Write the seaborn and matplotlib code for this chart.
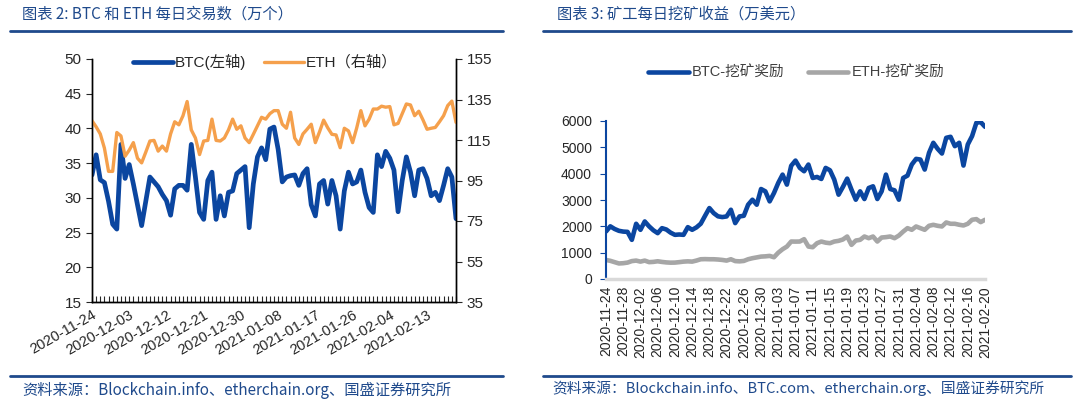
import numpy as np
import pandas as pd
import matplotlib
matplotlib.use('Agg')
import matplotlib.pyplot as plt
import matplotlib.dates as mdates
from matplotlib.lines import Line2D
import seaborn as sns

# daily data, 2020-11-24 .. 2021-02-20
dates = pd.date_range('2020-11-24', '2021-02-20', freq='D')

# chart 2: daily transactions (10k)
btc_tx = [33.3, 36.2, 32.6, 32.2, 29.5, 26.2, 25.5, 37.7, 32.8, 34.8,
          32.0, 29.0, 26.0, 29.5, 33.0, 32.3, 31.6, 30.5, 29.6, 27.5,
          31.3, 31.8, 31.8, 31.1, 37.7, 33.0, 27.9, 26.9, 32.5, 33.7,
          26.9, 30.3, 27.4, 30.8, 31.0, 33.5, 34.0, 34.5, 25.7, 32.0,
          35.9, 37.2, 35.5, 39.9, 40.2, 37.0, 32.3, 33.0, 33.2, 33.3,
          31.8, 33.5, 34.2, 29.0, 27.4, 32.0, 32.5, 29.1, 32.5, 30.3,
          25.5, 31.0, 33.7, 32.0, 32.3, 34.0, 30.8, 28.6, 27.9, 36.2,
          34.5, 36.7, 35.7, 34.0, 28.0, 32.5, 35.9, 33.7, 30.3, 34.0,
          34.2, 32.8, 30.3, 30.8, 29.6, 31.8, 34.2, 33.0, 27.0]
eth_tx = [124.5, 121.5, 118.0, 111.0, 99.5, 99.5, 118.7, 117.0, 107.0, 110.0,
          113.7, 106.0, 103.7, 109.0, 114.5, 114.8, 109.5, 112.0, 109.5, 118.0,
          124.0, 122.5, 127.0, 134.0, 120.0, 116.0, 107.8, 114.5, 114.8, 125.3,
          114.8, 114.5, 116.0, 120.0, 125.3, 120.3, 122.0, 116.0, 113.7, 117.8,
          122.0, 126.2, 125.3, 128.0, 129.5, 129.5, 122.8, 120.8, 128.7, 116.0,
          112.8, 118.0, 120.3, 122.8, 113.7, 119.0, 124.8, 121.0, 117.8, 117.5,
          111.2, 120.8, 119.5, 113.7, 121.0, 129.5, 122.0, 125.3, 130.3, 130.3,
          131.7, 131.2, 131.5, 122.5, 123.2, 128.0, 132.8, 132.3, 127.0, 129.2,
          125.0, 120.3, 120.8, 121.2, 124.0, 127.0, 132.0, 134.2, 123.7]

# chart 3: daily mining reward (10k USD)
btc_reward = [1804, 2000, 1900, 1830, 1800, 1790, 1487, 2097, 1868, 2185,
              2000, 1850, 1741, 1931, 1880, 1760, 1677, 1690, 1677, 1969,
              1868, 1960, 2100, 2400, 2694, 2503, 2380, 2351, 2376, 2630,
              2122, 2376, 2401, 2821, 3011, 2821, 3418, 3329, 2948, 3265,
              3650, 3964, 3583, 4300, 4498, 4219, 4092, 4346, 3837, 3875,
              3799, 4219, 4130, 3774, 3202, 3494, 3812, 3393, 3011, 3329,
              3037, 3456, 3520, 3037, 3329, 3964, 3418, 3367, 3011, 3837,
              3926, 4346, 4562, 4536, 4155, 4790, 5172, 4943, 4765, 5362,
              5400, 5044, 5172, 4308, 5108, 5426, 5934, 5959, 5781]
eth_reward = [724, 690, 640, 590, 600, 623, 680, 699, 660, 699,
              640, 650, 673, 648, 630, 620, 623, 640, 660, 670,
              660, 700, 750, 755, 750, 750, 740, 724, 699, 750,
              680, 670, 686, 750, 790, 820, 851, 860, 877, 826,
              1000, 1131, 1232, 1423, 1420, 1423, 1512, 1232, 1207, 1360,
              1423, 1380, 1360, 1423, 1449, 1500, 1614, 1296, 1461, 1487,
              1614, 1550, 1614, 1423, 1575, 1590, 1614, 1550, 1650, 1800,
              1931, 1868, 1995, 1931, 1868, 2020, 2058, 2020, 1995, 2147,
              2097, 2097, 2060, 2033, 2097, 2250, 2274, 2160, 2249]

df = pd.DataFrame({'date': dates, 'btc_tx': btc_tx, 'eth_tx': eth_tx,
                   'btc_reward': btc_reward, 'eth_reward': eth_reward})

sns.set_style('white')
plt.rcParams['font.family'] = ['Liberation Sans', 'Noto Sans CJK SC']

blue = '#0B46A0'
orange = '#F5A04C'
grey = '#A6A6A6'
navy = '#1F4A8C'

W, H = 1078, 399
fig = plt.figure(figsize=(W / 100, H / 100), dpi=100)

def fx(px):
    return px / W

def fy(py):
    return 1 - py / H

# ---- left chart ----
ax1 = fig.add_axes([fx(92), fy(302), fx(364), 243 / H])
ax1b = ax1.twinx()
sns.lineplot(data=df, x='date', y='btc_tx', ax=ax1, color=blue, lw=3.4,
             label='BTC(左轴)', legend=False)
sns.lineplot(data=df, x='date', y='eth_tx', ax=ax1b, color=orange, lw=2.4,
             label='ETH（右轴）', legend=False)
ax1.set_ylim(15, 50)
ax1.set_yticks(np.arange(15, 51, 5))
ax1b.set_ylim(35, 155)
ax1b.set_yticks(np.arange(35, 156, 20))
ax1.set_xlim(dates[0], dates[-1])
ax1.set_xticks(dates[::9])
ax1.set_xticks(dates, minor=True)
ax1.xaxis.set_major_formatter(mdates.DateFormatter('%Y-%m-%d'))
for a in (ax1, ax1b):
    a.set_xlabel('')
    a.set_ylabel('')
    a.spines['top'].set_visible(False)
    for s in ('left', 'right', 'bottom'):
        a.spines[s].set_color('black')
        a.spines[s].set_linewidth(1)
ax1.tick_params(axis='x', which='both', direction='in', length=4, width=0.8,
                bottom=True, labelsize=10.5, pad=4)
ax1.tick_params(axis='y', direction='out', length=4, left=True, labelsize=11)
ax1b.tick_params(axis='y', direction='out', length=4, right=True, labelsize=11)
for lab in ax1.get_xticklabels():
    lab.set_rotation(30)
    lab.set_ha('right')
    lab.set_rotation_mode('anchor')

h1, l1 = ax1.get_legend_handles_labels()
h2, l2 = ax1b.get_legend_handles_labels()
fig.legend(h1 + h2, l1 + l2, loc='center', bbox_to_anchor=(fx(265), fy(62)),
           ncol=2, frameon=False, fontsize=11, handlelength=2.6,
           handletextpad=0.1, columnspacing=1.2)

# ---- right chart ----
ax2 = fig.add_axes([fx(606), fy(279), fx(379), 158 / H])
sns.lineplot(data=df, x='date', y='btc_reward', ax=ax2, color=blue, lw=3.3,
             label='BTC-挖矿奖励', legend=False)
sns.lineplot(data=df, x='date', y='eth_reward', ax=ax2, color=grey, lw=3.3,
             label='ETH-挖矿奖励', legend=False)
ax2.set_ylim(0, 6000)
ax2.set_yticks(np.arange(0, 6001, 1000))
ax2.set_xlim(dates[0], dates[-1])
ax2.set_xticks(dates[::4])
ax2.xaxis.set_major_formatter(mdates.DateFormatter('%Y-%m-%d'))
ax2.set_xlabel('')
ax2.set_ylabel('')
ax2.spines['top'].set_visible(False)
ax2.spines['right'].set_visible(False)
ax2.spines['left'].set_color(blue)
ax2.spines['left'].set_linewidth(1.5)
ax2.spines['bottom'].set_color('#D9D9D9')
ax2.spines['bottom'].set_linewidth(2.5)
ax2.tick_params(axis='y', direction='out', length=4, color=blue, left=True,
                labelsize=10, pad=6)
ax2.tick_params(axis='x', length=0, labelsize=10, pad=5, labelrotation=90)
h3, l3 = ax2.get_legend_handles_labels()
leg = fig.legend(h3, l3, loc='center', bbox_to_anchor=(fx(796), fy(73)),
                 ncol=2, frameon=False, fontsize=10.5, handlelength=2.8,
                 handletextpad=0.2, columnspacing=1.6)
for t in leg.get_texts():
    t.set_color('#404040')

# ---- titles, rules, sources ----
title_font = ['Noto Sans CJK SC', 'DejaVu Sans']
fig.text(fx(22), fy(14), '图表 2: BTC 和 ETH 每日交易数（万个）', color=navy,
         fontsize=11, style='italic', va='center', family=title_font)
fig.text(fx(557), fy(14), '图表 3: 矿工每日挖矿收益（万美元）', color=navy,
         fontsize=11, style='italic', va='center', family=title_font)
for x0, x1 in ((10, 503), (543, 1071)):
    fig.add_artist(Line2D([fx(x0), fx(x1)], [fy(31), fy(31)], color=navy, lw=2))
    fig.add_artist(Line2D([fx(x0), fx(x1)], [fy(376), fy(376)], color=navy, lw=2))
fig.text(fx(22), fy(390), '资料来源：Blockchain.info、etherchain.org、国盛证券研究所',
         color=navy, fontsize=11, style='italic', va='center', family=title_font)
fig.text(fx(552), fy(388), '资料来源：Blockchain.info、BTC.com、etherchain.org、国盛证券研究所',
         color=navy, fontsize=10.6, style='italic', va='center', family=title_font)

fig.savefig('out.png', dpi=100)
